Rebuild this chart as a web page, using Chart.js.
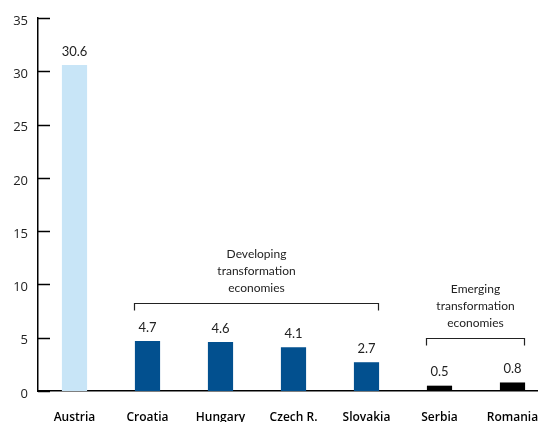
<!DOCTYPE html>
<html>
<head>
<meta charset="utf-8">
<script src="https://cdn.jsdelivr.net/npm/chart.js@4"></script>
<style>
  html, body { margin: 0; padding: 0; background: #fff; overflow: hidden; }
  #wrap { width: 560px; height: 422px; }
</style>
</head>
<body>
<div id="wrap"><canvas id="bars"></canvas></div>
<script>
var countries = ["Austria", "Croatia", "Hungary", "Czech R.", "Slovakia", "Serbia", "Romania"];
var values = [30.6, 4.7, 4.6, 4.1, 2.7, 0.5, 0.8];
var barColors = ["#c8e5f7", "#02508f", "#02508f", "#02508f", "#02508f", "#000000", "#000000"];
var yTicks = [0, 5, 10, 15, 20, 25, 30, 35];

// groups shown with a bracket above the bars: first/last index, bracket level, text lines
var groups = [
	{ from: 1, to: 4, level: 8.25, lines: ["Developing", "transformation", "economies"] },
	{ from: 5, to: 6, level: 5.0, lines: ["Emerging", "transformation", "economies"] }
];

var fontFamily = "Lato, 'Open Sans', sans-serif";
var axisFont = "'Open Sans', Lato, sans-serif";

// short tick marks pointing into the plot area
var innerTicks = {
	id: 'innerTicks',
	afterDraw: function(chart) {
		var ctx = chart.ctx;
		var y = chart.scales.y;
		ctx.save();
		ctx.strokeStyle = "#000";
		ctx.lineWidth = 1.5;
		for(var i = 0; i < yTicks.length; i++) {
			var py = Math.round(y.getPixelForValue(yTicks[i])) + 0.5;
			ctx.beginPath();
			ctx.moveTo(y.right, py);
			ctx.lineTo(y.right + 12, py);
			ctx.stroke();
		}
		ctx.restore();
	}
};

// value printed above each bar
var valueLabels = {
	id: 'valueLabels',
	afterDatasetsDraw: function(chart) {
		var ctx = chart.ctx;
		var meta = chart.getDatasetMeta(0);
		ctx.save();
		ctx.fillStyle = "#222";
		ctx.font = "13px " + fontFamily;
		ctx.textAlign = "center";
		ctx.textBaseline = "bottom";
		for(var i = 0; i < meta.data.length; i++) {
			var bar = meta.data[i];
			ctx.fillText(values[i].toFixed(1), bar.x, bar.y - 7);
		}
		ctx.restore();
	}
};

var groupBrackets = {
	id: 'groupBrackets',
	afterDatasetsDraw: function(chart) {
		var ctx = chart.ctx;
		var meta = chart.getDatasetMeta(0);
		var y = chart.scales.y;
		ctx.save();
		ctx.strokeStyle = "#222";
		ctx.lineWidth = 1.2;
		ctx.fillStyle = "#222";
		ctx.font = "12px " + fontFamily;
		ctx.textAlign = "center";
		ctx.textBaseline = "alphabetic";
		for(var g = 0; g < groups.length; g++) {
			var grp = groups[g];
			var first = meta.data[grp.from];
			var last = meta.data[grp.to];
			var left = Math.round(first.x - first.width / 2) - 0.5;
			var right = Math.round(last.x + last.width / 2) - 0.5;
			var py = Math.round(y.getPixelForValue(grp.level)) + 0.5;
			ctx.beginPath();
			ctx.moveTo(left, py + 7);
			ctx.lineTo(left, py);
			ctx.lineTo(right, py);
			ctx.lineTo(right, py + 7);
			ctx.stroke();
			var cx = (left + right) / 2;
			for(var l = 0; l < grp.lines.length; l++) {
				ctx.fillText(grp.lines[l], cx, py - 12 - (grp.lines.length - 1 - l) * 17);
			}
		}
		ctx.restore();
	}
};

var config = {
	type: 'bar',
	data: {
		labels: countries,
		datasets: [{
			data: values,
			backgroundColor: barColors,
			borderWidth: 0,
			categoryPercentage: 1.0,
			barPercentage: 0.345
		}]
	},
	options: {
		responsive: true,
		maintainAspectRatio: false,
		animation: false,
		layout: { padding: { top: 18, right: 11, left: 0, bottom: 0 } },
		plugins: {
			legend: { display: false },
			tooltip: { enabled: false }
		},
		scales: {
			x: {
				offset: true,
				grid: { display: false, drawTicks: false },
				border: { color: "#000", width: 1.5 },
				ticks: {
					color: "#000",
					padding: 19,
					maxRotation: 0,
					autoSkip: false,
					font: { family: axisFont, size: 12, weight: "600" }
				},
				afterFit: function(scale) { scale.height = 31; }
			},
			y: {
				min: 0,
				max: 35,
				afterBuildTicks: function(scale) {
					scale.ticks = yTicks.map(function(v) { return { value: v }; });
				},
				grid: { display: false, drawTicks: false },
				border: { color: "#000", width: 1.5 },
				ticks: {
					color: "#222",
					padding: 10,
					labelOffset: 3,
					font: { family: axisFont, size: 13 }
				},
				afterFit: function(scale) { scale.width = 38; }
			}
		}
	},
	plugins: [innerTicks, valueLabels, groupBrackets]
};

var myChart = new Chart(document.getElementById('bars'), config);
</script>
</body>
</html>
